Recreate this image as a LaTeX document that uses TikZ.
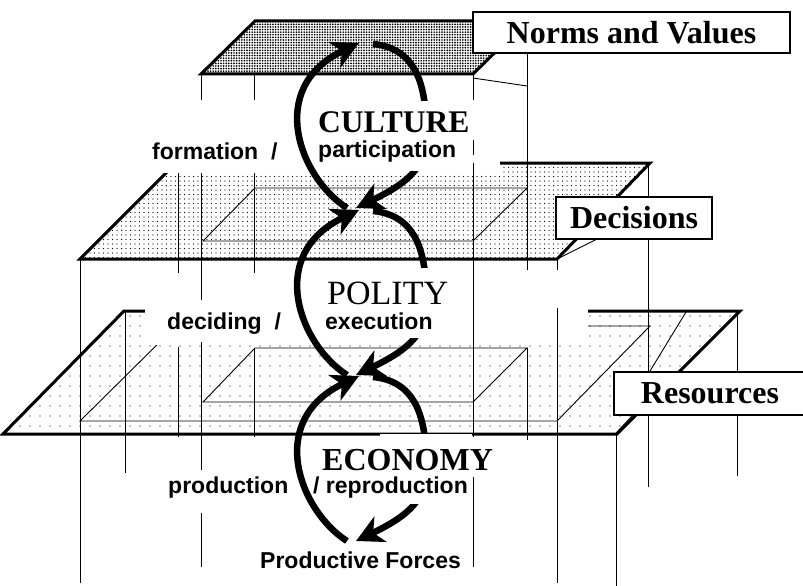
\documentclass[tikz,border=0pt]{standalone}
\usepackage{fontspec}
\setmainfont{Liberation Serif}
\newfontfamily\arialfont{Liberation Sans}
\usetikzlibrary{arrows.meta,patterns.meta}
\tikzset{
  planeedge/.style={line width=3pt, line join=miter},
  thinline/.style={line width=0.9pt},
  pillar/.style={line width=1pt},
  flowarc/.style={line width=6.5pt, -{Stealth[length=27pt,width=28pt,inset=8pt]}},
  labelbox/.style={draw, fill=white, line width=1.2pt, inner sep=0pt,
    font=\fontsize{32}{36}\selectfont\bfseries},
  sanslbl/.style={font=\arialfont\fontsize{23}{26}\selectfont\bfseries, anchor=base west, inner sep=0pt},
  seriflbl/.style={font=\fontsize{31.5}{36}\selectfont\bfseries, anchor=base west, inner sep=0pt},
}
\begin{document}
\begin{tikzpicture}[x=1pt,y=-1pt]
\useasboundingbox (0,0) rectangle (803,586);
\clip (0,0) rectangle (803,586);

% ---- plane fills
\fill[pattern={Dots[distance=2.6pt,radius=0.95pt]}] (201,74) -- (255,21) -- (527,21) -- (473,74) -- cycle;
\fill[pattern={Dots[distance=4.5pt,radius=0.6pt]}] (80,259) -- (176,163) -- (650,163) -- (557,259) -- cycle;
\fill[pattern={Dots[distance=10pt,radius=0.7pt]}] (3,434) -- (124,311) -- (740,311) -- (617,434) -- cycle;

% ---- inner projections
\draw[thinline] (203,241) -- (255,188) -- (527,188) -- (473,241) -- cycle;
\draw[thinline] (80,421) -- (176,326) -- (650,326) -- (557,421) -- cycle;
\draw[thinline] (203,402) -- (255,348) -- (527,348) -- (473,402) -- cycle;
\draw[thinline] (650,371) -- (686,312);

% ---- plane edges
\draw[planeedge] (201,74) -- (255,21) -- (527,21) -- (473,74) -- cycle;
\draw[planeedge] (80,259) -- (176,163) -- (650,163) -- (557,259) -- cycle;
\draw[planeedge] (3,434) -- (124,311) -- (740,311) -- (617,434) -- cycle;

% ---- masks behind the side labels
\fill[white] (150,100) rectangle (500,173);
\fill[white] (145,272) rectangle (588,345);

% ---- vertical pillars
\foreach \x/\a/\b in {80/259/583, 125/311/473, 178/173/273, 178/347/437,
  201/74/100, 201/173/300, 201/342/470, 201/513/567,
  254/74/100, 254/173/273, 254/348/437,
  473/74/100, 473/140/155, 473/163/437, 473/477/567,
  527/53/270, 527/348/440, 557/259/270, 557/308/583,
  616/434/586, 648/163/487, 737/311/476}
  \draw[pillar] (\x,\a) -- (\x,\b);

% ---- perspective ties to the boxes
\draw[thinline] (473,78) -- (527,86);
\draw[thinline] (557,259) -- (597,239);
\draw[thinline] (616,433) -- (634,414);

% ---- boxes
\node[labelbox, minimum width=317pt, minimum height=41pt] (nv) at (631.5,32.5) {Norms and Values};
\node[labelbox, minimum width=156pt, minimum height=42pt] (dec) at (634,218) {Decisions};
\node[labelbox, minimum width=192pt, minimum height=43pt] (res) at (710,393.5) {Resources};

% ---- cycles
\foreach \n/\dy in {cul/43, pol/210, eco/376}{
  \begin{scope}[shift={(0,\dy)}]
    \coordinate (\n-lt) at (347,165);
    \coordinate (\n-lh) at (359,0);
    \coordinate (\n-rt) at (373,1);
    \coordinate (\n-rm) at (426,75);
    \coordinate (\n-rh) at (356,165);
    \draw[flowarc] (\n-lt) .. controls (300,135) and (265,45) .. (\n-lh);
    \draw[flowarc] (\n-rt) .. controls (415,5) and (424,40) .. (\n-rm)
                           .. controls (432,120) and (412,138) .. (\n-rh);
    \fill[white] (380,58) rectangle (472,128);
  \end{scope}
}

% ---- labels
\node[sanslbl] (formation) at (152,159) {formation\ \ /};
\node[sanslbl] (participation) at (318,157) {participation};
\node[seriflbl] (culture) at (318,132) {CULTURE};
\node[sanslbl] (deciding) at (167,329) {deciding\ \ /};
\node[sanslbl] (execution) at (325,329) {execution};
\node[anchor=base west, inner sep=0pt, font=\fontsize{34}{38}\selectfont] (polity) at (327,304) {POLITY};
\node[seriflbl, font=\fontsize{32}{36}\selectfont\bfseries] (economy) at (322,470) {ECONOMY};
\node[sanslbl] (production) at (168,493) {production};
\node[sanslbl] (reproduction) at (313,493) {/ reproduction};
\node[sanslbl] (forces) at (260,568) {Productive Forces};
\end{tikzpicture}
\end{document}
